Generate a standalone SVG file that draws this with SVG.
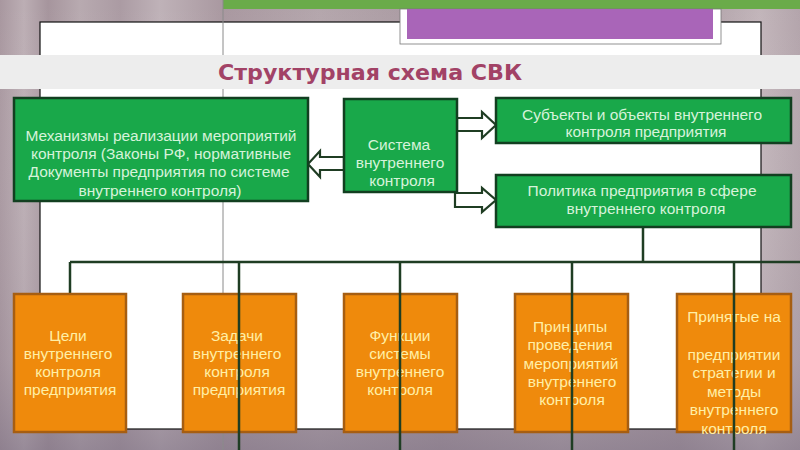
<svg xmlns="http://www.w3.org/2000/svg" width="800" height="450" viewBox="0 0 800 450">
<defs>
<linearGradient id="bgH" x1="0" y1="0" x2="1" y2="0">
<stop offset="0" stop-color="#a8979f"/>
<stop offset="0.03" stop-color="#bcaeb4"/>
<stop offset="0.06" stop-color="#a6959d"/>
<stop offset="0.1" stop-color="#b8aab0"/>
<stop offset="0.15" stop-color="#ab9ba3"/>
<stop offset="0.2" stop-color="#bfb2b8"/>
<stop offset="0.28" stop-color="#a998a0"/>
<stop offset="0.4" stop-color="#b4a6ac"/>
<stop offset="0.55" stop-color="#a898a0"/>
<stop offset="0.7" stop-color="#b6a8ae"/>
<stop offset="0.85" stop-color="#aa9aa2"/>
<stop offset="0.95" stop-color="#c2b5ba"/>
<stop offset="1" stop-color="#b3a4ab"/>
</linearGradient>
<linearGradient id="bgV" x1="0" y1="0" x2="0" y2="1">
<stop offset="0" stop-color="#ffffff" stop-opacity="0"/>
<stop offset="0.8" stop-color="#8c7f90" stop-opacity="0.2"/>
<stop offset="1" stop-color="#7a6e82" stop-opacity="0.55"/>
</linearGradient>
<style>
.gbox{fill:#19a84a;stroke:#123f20;stroke-width:2.5}
.obox{fill:#ef8a0c;stroke:#a65e12;stroke-width:2.5}
.tg{font-family:"Liberation Sans",Arial,sans-serif;font-size:15.5px;fill:#d6f3da;text-anchor:middle}
.to{font-family:"Liberation Sans",Arial,sans-serif;font-size:15.5px;fill:#ffefa6;text-anchor:middle}
.ln{stroke:#1f3d23;stroke-width:2.5;fill:none}
.arr{fill:#ffffff;stroke:#1f3d23;stroke-width:2.2;stroke-linejoin:miter}
</style>
</defs>

<g id="background">
<rect x="0" y="0" width="800" height="450" fill="url(#bgH)"/>
<rect x="0" y="0" width="800" height="450" fill="url(#bgV)"/>
<rect x="223" y="0" width="577" height="9" fill="#6aab4a"/>
<rect x="40" y="22" width="721" height="407" fill="#ffffff" stroke="#111111" stroke-width="1.2"/>
<line x1="223" y1="0" x2="223" y2="450" stroke="#8a8a8a" stroke-width="1"/>
<rect x="400" y="9" width="321" height="35" fill="#ffffff" stroke="#777777" stroke-width="0.8"/>
<rect x="407" y="9" width="306" height="30" fill="#a965b8"/>
<rect x="0" y="55" width="800" height="34" fill="#ededed"/>
<text x="370" y="80" font-family="'Liberation Sans Narrow','DejaVu Sans Condensed','Liberation Sans',sans-serif" font-weight="bold" font-size="22" fill="#a24266" text-anchor="middle" textLength="304" lengthAdjust="spacingAndGlyphs">Структурная схема СВК</text>
</g>

<g id="connectors">
<polygon class="arr" points="344,157 320,157 320,151 308,164 320,177 320,170 344,170"/>
<polygon class="arr" points="457,118 482,118 482,112 496,125 482,138 482,131 457,131"/>
<polygon class="arr" points="455,193 482,193 482,188 496,200 482,212 482,207 455,207"/>
<line class="ln" x1="643" y1="227" x2="643" y2="262"/>
<line class="ln" x1="70" y1="262" x2="800" y2="262"/>
<line class="ln" x1="70" y1="262" x2="70" y2="294"/>
</g>

<g id="mechanisms">
<rect class="gbox" x="14" y="98" width="294" height="103"/>
<text class="tg" x="161" y="141" textLength="271">Механизмы реализации мероприятий</text>
<text class="tg" x="161" y="159" textLength="260">контроля (Законы РФ, нормативные</text>
<text class="tg" x="159" y="177" textLength="261">Документы предприятия по системе</text>
<text class="tg" x="160" y="196" textLength="163">внутреннего контроля)</text>
</g>

<g id="system">
<rect class="gbox" x="344" y="99" width="113" height="93"/>
<text class="tg" x="399" y="150">Система</text>
<text class="tg" x="400" y="168">внутреннего</text>
<text class="tg" x="402" y="186">контроля</text>
</g>

<g id="subjects">
<rect class="gbox" x="496" y="98" width="295" height="45"/>
<text class="tg" x="642" y="120" textLength="240">Субъекты и объекты внутреннего</text>
<text class="tg" x="646" y="137" textLength="161">контроля предприятия</text>
</g>

<g id="policy">
<rect class="gbox" x="496" y="175" width="295" height="52"/>
<text class="tg" x="642" y="196" textLength="229">Политика предприятия в сфере</text>
<text class="tg" x="646" y="214" textLength="159">внутреннего контроля</text>
</g>

<g id="goals">
<rect class="obox" x="14" y="294" width="112" height="138"/>
<text class="to" x="68" y="341">Цели</text>
<text class="to" x="68" y="359">внутреннего</text>
<text class="to" x="68" y="377">контроля</text>
<text class="to" x="70" y="395">предприятия</text>
</g>

<g id="tasks">
<rect class="obox" x="183" y="294" width="113" height="138"/>
<text class="to" x="237" y="341">Задачи</text>
<text class="to" x="237" y="359">внутреннего</text>
<text class="to" x="237" y="377">контроля</text>
<text class="to" x="239" y="395">предприятия</text>
</g>

<g id="functions">
<rect class="obox" x="344" y="294" width="113" height="138"/>
<text class="to" x="400" y="341">Функции</text>
<text class="to" x="400" y="359">системы</text>
<text class="to" x="400" y="377">внутреннего</text>
<text class="to" x="400" y="395">контроля</text>
</g>

<g id="principles">
<rect class="obox" x="515" y="294" width="113" height="138"/>
<text class="to" x="570" y="332">Принципы</text>
<text class="to" x="570" y="350">проведения</text>
<text class="to" x="571" y="369">мероприятий</text>
<text class="to" x="572" y="387">внутреннего</text>
<text class="to" x="572" y="405">контроля</text>
</g>

<g id="adopted">
<rect class="obox" x="677" y="294" width="114" height="138"/>
<text class="to" x="734" y="322">Принятые на</text>
<text class="to" x="734" y="360">предприятии</text>
<text class="to" x="734" y="378">стратегии и</text>
<text class="to" x="734" y="397">методы</text>
<text class="to" x="734" y="415">внутреннего</text>
<text class="to" x="734" y="434">контроля</text>
</g>

<g id="drops">
<line class="ln" x1="239" y1="262" x2="239" y2="450"/>
<line class="ln" x1="400" y1="262" x2="400" y2="450"/>
<line class="ln" x1="572" y1="262" x2="572" y2="450"/>
<line class="ln" x1="734" y1="262" x2="734" y2="450"/>
</g>
</svg>
